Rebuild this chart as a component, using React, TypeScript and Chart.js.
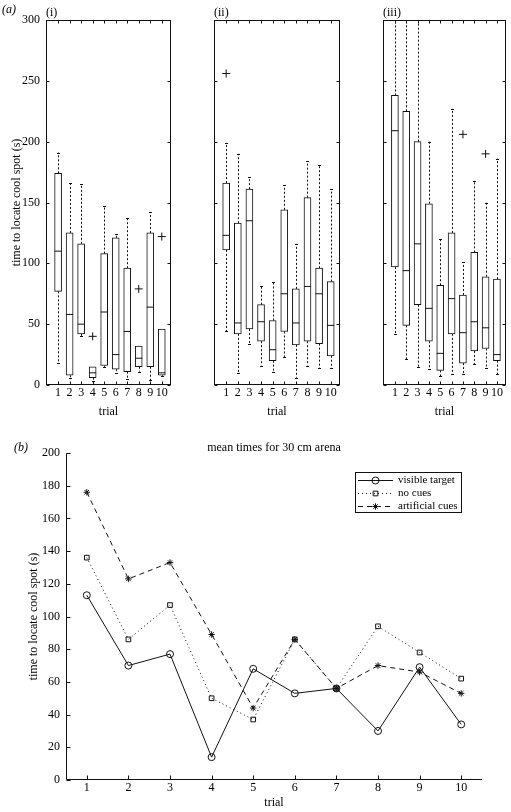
import React, { useEffect, useRef } from 'react';
import { Chart, registerables } from 'chart.js';
import { drawPoint } from 'chart.js/helpers';

Chart.register(...registerables);

const FONT = "'Liberation Serif', 'Times New Roman', serif";
const INK = '#111';

// ---------- shared ----------
const trials = [1, 2, 3, 4, 5, 6, 7, 8, 9, 10];
const yTicksTop = [0, 50, 100, 150, 200, 250, 300];
const yTicksBottom = [0, 20, 40, 60, 80, 100, 120, 140, 160, 180, 200];

// ---------- panel (i) ----------
const p1Low = [18, 6, 40, 3, 15, 10, 5, 11, 4, 7];
const p1Q1 = [77, 8, 42, 6, 16, 13, 11, 15, 15, 8];
const p1Med = [110, 58, 50, 10, 60, 25, 44, 22, 64, 10];
const p1Q3 = [174, 125, 116, 15, 108, 121, 96, 32, 125, 46];
const p1High = [191, 166, 165, 15, 147, 124, 137, 32, 142, 46];
const p1OutX = [4, 8, 10];
const p1OutY = [40, 79, 122];

// ---------- panel (ii) ----------
const p2Low = [44, 10, 34, 16, 11, 23, 6, 16, 14, 14];
const p2Q1 = [111, 42, 46, 36, 20, 44, 33, 36, 34, 24];
const p2Med = [123, 51, 135, 52, 29, 75, 51, 81, 75, 49];
const p2Q3 = [166, 133, 161, 66, 53, 144, 79, 154, 96, 85];
const p2High = [199, 190, 171, 81, 85, 164, 116, 184, 181, 161];
const p2OutX = [1];
const p2OutY = [256];

// ---------- panel (iii) ----------
const p3Low = [42, 21, 15, 13, 7, 9, 9, 17, 14, 9];
const p3Q1 = [97, 49, 66, 36, 12, 42, 18, 28, 30, 20];
const p3Med = [209, 94, 116, 63, 26, 71, 43, 52, 47, 25];
const p3Q3 = [238, 225, 200, 149, 82, 125, 74, 109, 89, 87];
const p3High = [300, 300, 300, 200, 120, 227, 101, 168, 150, 186];
const p3OutX = [7, 9];
const p3OutY = [206, 190];

// ---------- (b) mean times ----------
const visibleTarget = [113, 70, 77, 14, 68, 53, 56, 30, 69, 34];
const noCues = [136, 86, 107, 50, 37, 86, 56, 94, 78, 62];
const artificialCues = [176, 123, 133, 89, 44, 86, 56, 70, 66, 53];

type PanelProps = {
  left: number;
  width: number;
  yWidth: number;
  padRight: number;
  label: string;
  tag?: string;
  showY: boolean;
  low: number[];
  q1: number[];
  med: number[];
  q3: number[];
  high: number[];
  outX: number[];
  outY: number[];
};

function BoxPanel(p: PanelProps) {
  const ref = useRef<HTMLCanvasElement | null>(null);
  useEffect(() => {
    const canvas = ref.current;
    if (!canvas) return;
    const yMax = 300;
    const plugin = {
      id: 'boxExtras',
      beforeDatasetsDraw(chart: any) {
        const { ctx, chartArea: ca, scales } = chart;
        const x = scales.x;
        const y = scales.y;
        ctx.save();
        ctx.beginPath();
        ctx.rect(ca.left, ca.top, ca.right - ca.left, ca.bottom - ca.top);
        ctx.clip();
        ctx.strokeStyle = INK;
        ctx.lineWidth = 1;
        ctx.setLineDash([2, 2]);
        trials.forEach((t, i) => {
          const px = Math.round(x.getPixelForValue(t)) + 0.5;
          ctx.beginPath();
          if (p.high[i] > p.q3[i]) {
            ctx.moveTo(px, y.getPixelForValue(p.q3[i]));
            ctx.lineTo(px, y.getPixelForValue(p.high[i]));
          }
          if (p.low[i] < p.q1[i]) {
            ctx.moveTo(px, y.getPixelForValue(p.q1[i]));
            ctx.lineTo(px, y.getPixelForValue(p.low[i]));
          }
          ctx.stroke();
        });
        ctx.setLineDash([]);
        ctx.beginPath();
        trials.forEach((t, i) => {
          const px = Math.round(x.getPixelForValue(t)) + 0.5;
          if (p.high[i] > p.q3[i] && p.high[i] < yMax) {
            const py = Math.round(y.getPixelForValue(p.high[i])) + 0.5;
            ctx.moveTo(px - 1.5, py);
            ctx.lineTo(px + 1.5, py);
          }
          if (p.low[i] < p.q1[i]) {
            const py = Math.round(y.getPixelForValue(p.low[i])) + 0.5;
            ctx.moveTo(px - 1.5, py);
            ctx.lineTo(px + 1.5, py);
          }
        });
        ctx.stroke();
        ctx.restore();
      },
      afterDraw(chart: any) {
        const { ctx, chartArea: ca, scales } = chart;
        const x = scales.x;
        const y = scales.y;
        ctx.save();
        ctx.strokeStyle = INK;
        ctx.lineWidth = 1;
        const L = Math.round(ca.left) + 0.5;
        const R = Math.round(ca.right) - 0.5;
        const T = Math.round(ca.top) + 0.5;
        const B = Math.round(ca.bottom) - 0.5;
        ctx.strokeRect(L, T, R - L, B - T);
        ctx.beginPath();
        const tl = 3;
        trials.forEach((t) => {
          const px = Math.round(x.getPixelForValue(t)) + 0.5;
          ctx.moveTo(px, B);
          ctx.lineTo(px, B - tl);
          ctx.moveTo(px, T);
          ctx.lineTo(px, T + tl);
        });
        yTicksTop.forEach((v) => {
          const py = Math.round(y.getPixelForValue(v)) + 0.5;
          ctx.moveTo(L, py);
          ctx.lineTo(L + tl, py);
          ctx.moveTo(R, py);
          ctx.lineTo(R - tl, py);
        });
        ctx.stroke();
        ctx.fillStyle = '#000';
        ctx.textBaseline = 'alphabetic';
        ctx.textAlign = 'left';
        ctx.font = `12px ${FONT}`;
        ctx.fillText(p.label, ca.left, 16);
        if (p.tag) {
          ctx.font = `italic 12px ${FONT}`;
          ctx.fillText(p.tag, 2, 13);
        }
        ctx.restore();
      },
    };

    const chart = new Chart(canvas, {
      type: 'bar',
      data: {
        datasets: [
          {
            type: 'scatter',
            data: trials.map((t, i) => ({ x: t, y: p.med[i] })),
            pointStyle: 'line',
            pointRadius: 3.5,
            pointBorderColor: INK,
            pointBorderWidth: 1,
          } as any,
          {
            type: 'scatter',
            data: p.outX.map((v, i) => ({ x: v, y: p.outY[i] })),
            pointStyle: 'cross',
            pointRadius: 4,
            pointBorderColor: INK,
            pointBorderWidth: 1,
          } as any,
          {
            type: 'bar',
            data: trials.map((t, i) => ({ x: t, y: [p.q1[i], p.q3[i]] })),
            backgroundColor: '#fff',
            borderColor: INK,
            borderWidth: 1,
            borderSkipped: false,
            barThickness: 7,
          } as any,
        ],
      },
      options: {
        responsive: false,
        animation: false,
        events: [],
        layout: { padding: { left: 0, right: p.padRight, top: 20, bottom: 0 } },
        plugins: { legend: { display: false }, tooltip: { enabled: false }, title: { display: false } },
        scales: {
          x: {
            type: 'linear',
            min: -0.05,
            max: 10.8,
            offset: false,
            grid: { display: false, drawTicks: false, tickLength: 0 },
            border: { display: false },
            afterBuildTicks: (s: any) => {
              s.ticks = trials.map((v) => ({ value: v }));
            },
            afterFit: (s: any) => {
              s.height = 35;
            },
            ticks: {
              autoSkip: false,
              maxRotation: 0,
              padding: 1,
              color: '#000',
              font: { family: FONT, size: 12 },
              callback: (v: any) => String(v),
            },
            title: {
              display: true,
              text: 'trial',
              color: '#000',
              font: { family: FONT, size: 12 },
              padding: { top: 0, bottom: 1 },
            },
          },
          y: {
            type: 'linear',
            min: 0,
            max: 300,
            grid: { display: false, drawTicks: false, tickLength: 0 },
            border: { display: false },
            afterFit: (s: any) => {
              s.width = p.yWidth;
            },
            ticks: {
              display: p.showY,
              stepSize: 50,
              padding: 6,
              color: '#000',
              font: { family: FONT, size: 12 },
            },
            title: {
              display: p.showY,
              text: 'time to locate cool spot (s)',
              color: '#000',
              font: { family: FONT, size: 12 },
              padding: { top: 10, bottom: 0 },
            },
          },
        },
      } as any,
      plugins: [plugin],
    });
    return () => chart.destroy();
  }, []);
  return (
    <canvas
      ref={ref}
      width={p.width}
      height={420}
      style={{ position: 'absolute', left: p.left, top: 0, width: p.width, height: 420 }}
    />
  );
}

function MeanChart() {
  const ref = useRef<HTMLCanvasElement | null>(null);
  useEffect(() => {
    const canvas = ref.current;
    if (!canvas) return;
    const plugin = {
      id: 'meanExtras',
      afterDraw(chart: any) {
        const { ctx, chartArea: ca, scales } = chart;
        const x = scales.x;
        const y = scales.y;
        ctx.save();
        ctx.strokeStyle = INK;
        ctx.lineWidth = 1;
        const L = Math.round(ca.left) + 0.5;
        const B = Math.round(ca.bottom) - 0.5;
        const T = Math.round(ca.top) + 0.5;
        const R = Math.round(ca.right);
        ctx.beginPath();
        ctx.moveTo(L, T);
        ctx.lineTo(L, B);
        ctx.lineTo(R, B);
        const tl = 4;
        trials.forEach((_, i) => {
          const px = Math.round(x.getPixelForValue(i)) + 0.5;
          ctx.moveTo(px, B);
          ctx.lineTo(px, B - tl);
        });
        yTicksBottom.forEach((v) => {
          const py = Math.round(y.getPixelForValue(v)) + 0.5;
          ctx.moveTo(L, py);
          ctx.lineTo(L + tl, py);
        });
        ctx.stroke();

        ctx.fillStyle = '#000';
        ctx.textBaseline = 'alphabetic';
        ctx.textAlign = 'center';
        ctx.font = `12px ${FONT}`;
        ctx.fillText('mean times for 30 cm arena', (ca.left + ca.right) / 2, 30.5);
        ctx.textAlign = 'left';
        ctx.font = `italic 12px ${FONT}`;
        ctx.fillText('(b)', 14, 30.5);

        // legend
        const bx = 355.5;
        const by = 52.5;
        const bw = 106;
        const bh = 40;
        ctx.fillStyle = '#fff';
        ctx.fillRect(bx, by, bw, bh);
        ctx.strokeStyle = INK;
        ctx.strokeRect(bx, by, bw, bh);
        const rows = [60, 73, 86];
        chart.data.datasets.forEach((ds: any, i: number) => {
          const ry = rows[i] + 0.5;
          ctx.save();
          ctx.strokeStyle = INK;
          ctx.lineWidth = 1;
          ctx.setLineDash(ds.borderDash || []);
          ctx.beginPath();
          ctx.moveTo(358, ry);
          ctx.lineTo(393, ry);
          ctx.stroke();
          ctx.setLineDash([]);
          ctx.fillStyle = ds.pointBackgroundColor;
          ctx.strokeStyle = INK;
          drawPoint(ctx, { pointStyle: ds.pointStyle, radius: ds.pointRadius, rotation: 0, borderWidth: 1 } as any, 375.5, ry);
          ctx.restore();
          ctx.fillStyle = '#000';
          ctx.font = `11px ${FONT}`;
          ctx.textBaseline = 'middle';
          ctx.textAlign = 'left';
          ctx.fillText(ds.label, 398, ry);
        });
        ctx.restore();
      },
    };

    const common = {
      borderColor: INK,
      borderWidth: 1,
      pointBorderColor: INK,
      pointBorderWidth: 1,
      pointBackgroundColor: 'rgba(0,0,0,0)',
      tension: 0,
      fill: false,
    };

    const chart = new Chart(canvas, {
      type: 'line',
      data: {
        labels: trials.map(String),
        datasets: [
          { ...common, label: 'visible target', data: visibleTarget, pointStyle: 'circle', pointRadius: 3.5, borderDash: [] },
          { ...common, label: 'no cues', data: noCues, pointStyle: 'rect', pointRadius: 3.3, borderDash: [1, 3] },
          { ...common, label: 'artificial cues', data: artificialCues, pointStyle: 'star', pointRadius: 3.2, pointBackgroundColor: INK, borderDash: [5, 4] },
        ],
      },
      options: {
        responsive: false,
        animation: false,
        events: [],
        layout: { padding: { left: 0, right: 29, top: 33, bottom: 0 } },
        plugins: { legend: { display: false }, tooltip: { enabled: false }, title: { display: false } },
        scales: {
          x: {
            type: 'category',
            offset: true,
            grid: { display: false, drawTicks: false, tickLength: 0 },
            border: { display: false },
            afterFit: (s: any) => {
              s.height = 32;
            },
            ticks: {
              autoSkip: false,
              maxRotation: 0,
              padding: 1,
              color: '#000',
              font: { family: FONT, size: 12 },
            },
            title: {
              display: true,
              text: 'trial',
              color: '#000',
              font: { family: FONT, size: 12 },
              padding: { top: 0, bottom: 2 },
            },
          },
          y: {
            type: 'linear',
            min: 0,
            max: 200,
            grid: { display: false, drawTicks: false, tickLength: 0 },
            border: { display: false },
            afterFit: (s: any) => {
              s.width = 66;
            },
            ticks: {
              stepSize: 20,
              padding: 6,
              color: '#000',
              font: { family: FONT, size: 12 },
            },
            title: {
              display: true,
              text: 'time to locate cool spot (s)',
              color: '#000',
              font: { family: FONT, size: 12 },
              padding: { top: 27, bottom: 0 },
            },
          },
        },
      } as any,
      plugins: [plugin],
    });
    return () => chart.destroy();
  }, []);
  return (
    <canvas
      ref={ref}
      width={511}
      height={392}
      style={{ position: 'absolute', left: 0, top: 420, width: 511, height: 392 }}
    />
  );
}

export default function App() {
  return (
    <div style={{ position: 'absolute', left: 0, top: 0, width: 511, height: 812, overflow: 'hidden', background: '#fff' }}>
      <BoxPanel left={0} width={180} yWidth={46} padRight={9} label="(i)" tag="(a)" showY={true}
        low={p1Low} q1={p1Q1} med={p1Med} q3={p1Q3} high={p1High} outX={p1OutX} outY={p1OutY} />
      <BoxPanel left={180} width={170} yWidth={34} padRight={10} label="(ii)" showY={false}
        low={p2Low} q1={p2Q1} med={p2Med} q3={p2Q3} high={p2High} outX={p2OutX} outY={p2OutY} />
      <BoxPanel left={350} width={161} yWidth={33} padRight={2} label="(iii)" showY={false}
        low={p3Low} q1={p3Q1} med={p3Med} q3={p3Q3} high={p3High} outX={p3OutX} outY={p3OutY} />
      <MeanChart />
    </div>
  );
}
